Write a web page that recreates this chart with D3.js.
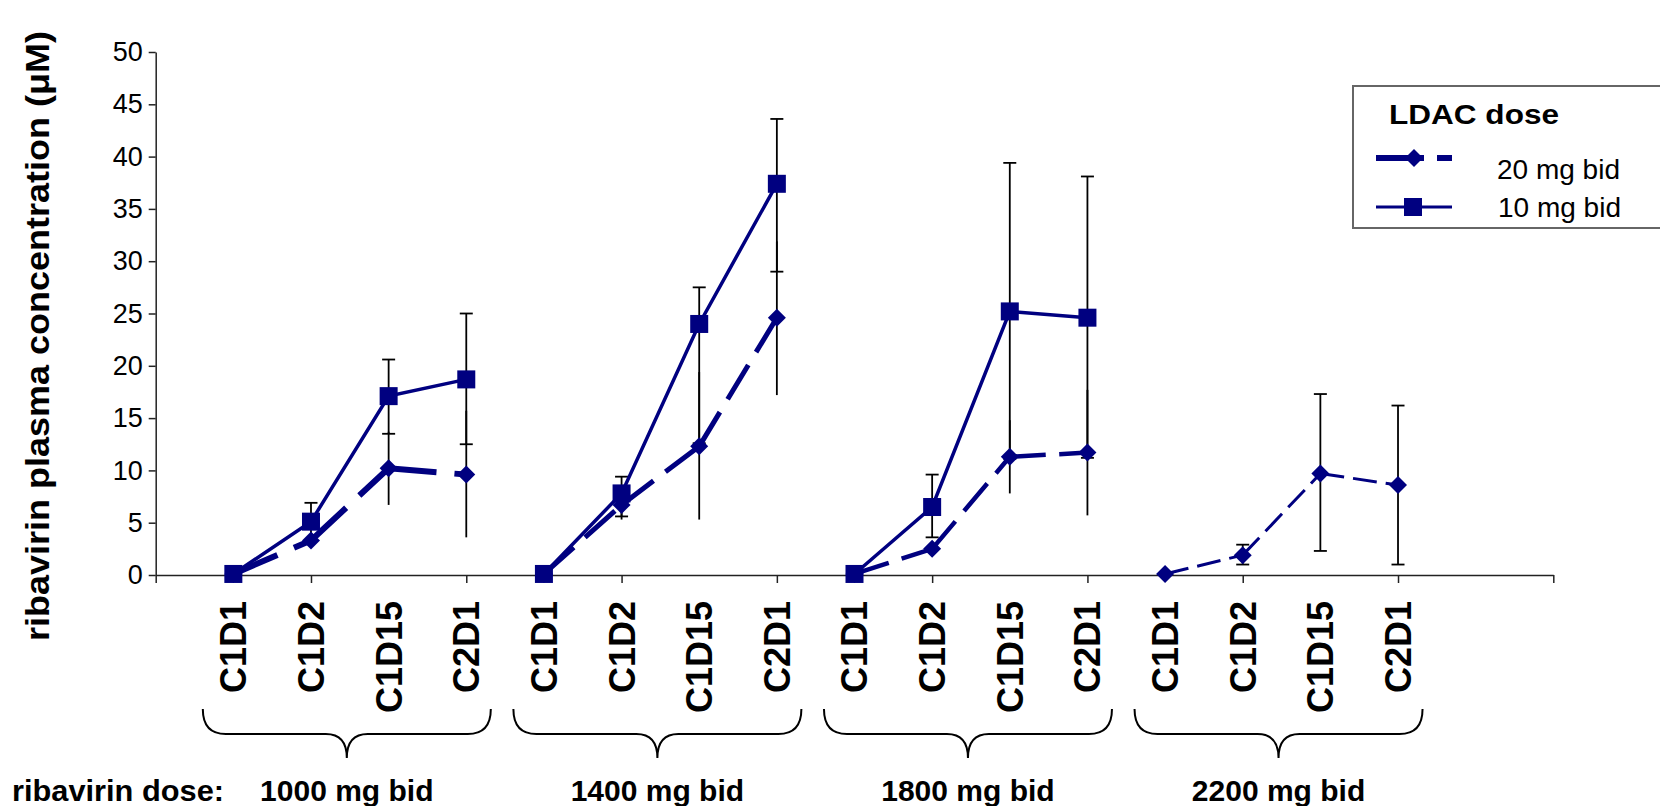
<!DOCTYPE html>
<html>
<head>
<meta charset="utf-8">
<script src="https://cdn.jsdelivr.net/npm/d3@7"></script>
<style>
  body { margin: 0; background: #fff; }
  text { font-family: "Liberation Sans", Arial, sans-serif; }
</style>
</head>
<body>
<script>
// ---- data ----
const visits = ['C1D1', 'C1D2', 'C1D15', 'C2D1'];
const ribavirinDoses = ['1000 mg bid', '1400 mg bid', '1800 mg bid', '2200 mg bid'];
// first category slot of each ribavirin group (slot 0, 17, 18 are empty)
const groupStart = [1, 5, 9, 13];
const yTicks = [0, 5, 10, 15, 20, 25, 30, 35, 40, 45, 50];

// LDAC 20 mg bid (diamonds, dashed)
const mean20 = [
  [0.1, 3.3, 10.2, 9.6],
  [0.1, 6.7, 12.3, 24.6],
  [0.1, 2.5, 11.3, 11.7],
  [0.1, 1.9, 9.7, 8.6]
];
const low20 = [
  [null, null, 6.7, 3.6],
  [null, 5.3, 5.3, 17.2],
  [null, null, 7.8, 5.7],
  [null, 1.0, 2.3, 1.0]
];
const high20 = [
  [null, null, 13.7, 15.7],
  [null, 8.0, 19.4, 31.9],
  [null, null, 14.8, 17.7],
  [null, 2.9, 17.3, 16.2]
];

// LDAC 10 mg bid (squares, solid) - no data for 2200 mg group
const mean10 = [
  [0.1, 5.1, 17.1, 18.7],
  [0.1, 7.8, 24.0, 37.4],
  [0.1, 6.5, 25.2, 24.6]
];
const low10 = [
  [null, 3.3, 13.5, 12.5],
  [null, 5.6, 12.6, 29.0],
  [null, 3.6, 11.1, 11.2]
];
const high10 = [
  [null, 6.9, 20.6, 25.0],
  [null, 9.4, 27.5, 43.6],
  [null, 9.6, 39.4, 38.1]
];

// ---- styles ----
const NAVY = '#000080';
const dashWidth20 = [6, 5, 4.5, 3];
const caps20 = [false, false, false, true];

const W = 1660, H = 806;
const svg = d3.select('body').append('svg')
  .attr('width', W)
  .attr('height', H);

const x = d3.scalePoint()
  .domain(d3.range(19))
  .range([155.7, 1553.3]);
const y = d3.scaleLinear()
  .domain([0, 50])
  .range([575, 52]);

// axes
const yAxis = svg.append('g')
  .attr('transform', 'translate(' + x(0) + ',0)')
  .call(d3.axisLeft(y).tickValues(yTicks).tickSize(7).tickPadding(6).tickSizeOuter(0));
yAxis.selectAll('text').attr('font-size', 27).attr('fill', '#000')
  .style('font-family', '"Liberation Sans", Arial, sans-serif');
yAxis.selectAll('line, path').attr('stroke', '#222').attr('stroke-width', 1.5);

const xAxis = svg.append('g')
  .attr('transform', 'translate(0,' + y(0) + ')')
  .call(d3.axisBottom(x).tickValues(d3.range(0, 19, 2)).tickSize(8).tickSizeOuter(0).tickFormat(''));
xAxis.selectAll('line, path').attr('stroke', '#222').attr('stroke-width', 1.5);

// y axis title
svg.append('text')
  .attr('transform', 'translate(49,336) rotate(-90)')
  .attr('text-anchor', 'middle')
  .attr('font-size', 34)
  .attr('font-weight', 'bold')
  .attr('textLength', 610)
  .attr('lengthAdjust', 'spacingAndGlyphs')
  .text('ribavirin plasma concentration (\u03bcM)');

// category labels
ribavirinDoses.forEach(function (dose, g) {
  visits.forEach(function (v, i) {
    svg.append('text')
      .attr('transform', 'translate(' + x(groupStart[g] + i) + ',601) rotate(-90)')
      .attr('text-anchor', 'end')
      .attr('dy', '0.36em')
      .attr('font-size', 36)
      .attr('font-weight', 'bold')
      .text(v);
  });
});

// braces + ribavirin dose labels
function bracePath(xc, hw) {
  const xl = xc - hw, xr = xc + hw;
  const y0 = 709, y1 = 734, y2 = 758, r = 23, r2 = 21;
  return 'M' + xl + ',' + y0 +
    ' Q' + xl + ',' + y1 + ' ' + (xl + r) + ',' + y1 +
    ' L' + (xc - r2) + ',' + y1 +
    ' Q' + xc + ',' + y1 + ' ' + xc + ',' + y2 +
    ' Q' + xc + ',' + y1 + ' ' + (xc + r2) + ',' + y1 +
    ' L' + (xr - r) + ',' + y1 +
    ' Q' + xr + ',' + y1 + ' ' + xr + ',' + y0;
}
ribavirinDoses.forEach(function (dose, g) {
  const xc = (x(groupStart[g]) + x(groupStart[g] + 3)) / 2 - 3;
  svg.append('path')
    .attr('d', bracePath(xc, 144))
    .attr('fill', 'none')
    .attr('stroke', '#000')
    .attr('stroke-width', 2);
  svg.append('text')
    .attr('x', xc)
    .attr('y', 801)
    .attr('text-anchor', 'middle')
    .attr('font-size', 30)
    .attr('font-weight', 'bold')
    .text(dose);
});
svg.append('text')
  .attr('x', 12)
  .attr('y', 801)
  .attr('font-size', 30)
  .attr('font-weight', 'bold')
  .attr('textLength', 212)
  .attr('lengthAdjust', 'spacingAndGlyphs')
  .text('ribavirin dose:');

// error bars (drawn under the markers)
const bars = svg.append('g').attr('stroke', '#000').attr('stroke-width', 1.8);
function drawBars(means, lows, highs, withCaps) {
  means.forEach(function (row, g) {
    row.forEach(function (m, i) {
      const hi = highs[g][i], lo = lows[g][i];
      if (hi == null && lo == null) return;
      const cx = x(groupStart[g] + i);
      const top = hi == null ? m : hi;
      const bot = lo == null ? m : lo;
      bars.append('line')
        .attr('x1', cx).attr('x2', cx)
        .attr('y1', y(top)).attr('y2', y(bot));
      if (withCaps(g)) {
        [hi, lo].forEach(function (v) {
          if (v == null) return;
          bars.append('line')
            .attr('x1', cx - 6.5).attr('x2', cx + 6.5)
            .attr('y1', y(v)).attr('y2', y(v));
        });
      }
    });
  });
}
drawBars(mean10, low10, high10, function () { return true; });
drawBars(mean20, low20, high20, function (g) { return caps20[g]; });

// lines
const line = d3.line()
  .x(function (d) { return x(d.i); })
  .y(function (d) { return y(d.v); });

mean20.forEach(function (row, g) {
  const w = dashWidth20[g];
  for (let i = 0; i < row.length - 1; i++) {
    svg.append('path')
      .attr('d', line([{ i: groupStart[g] + i, v: row[i] }, { i: groupStart[g] + i + 1, v: row[i + 1] }]))
      .attr('fill', 'none')
      .attr('stroke', NAVY)
      .attr('stroke-width', w)
      .attr('stroke-dasharray', (8 * w) + ',' + (3 * w));
  }
});
mean10.forEach(function (row, g) {
  svg.append('path')
    .attr('d', line(row.map(function (v, i) { return { i: groupStart[g] + i, v: v }; })))
    .attr('fill', 'none')
    .attr('stroke', NAVY)
    .attr('stroke-width', 3.5);
});

// markers
const diamond = 'M0,-9L9,0L0,9L-9,0Z';
mean20.forEach(function (row, g) {
  row.forEach(function (v, i) {
    svg.append('path')
      .attr('d', diamond)
      .attr('transform', 'translate(' + x(groupStart[g] + i) + ',' + y(v) + ')')
      .attr('fill', NAVY);
  });
});
mean10.forEach(function (row, g) {
  row.forEach(function (v, i) {
    svg.append('rect')
      .attr('x', x(groupStart[g] + i) - 9)
      .attr('y', y(v) - 9)
      .attr('width', 18)
      .attr('height', 18)
      .attr('fill', NAVY);
  });
});

// legend
const legend = svg.append('g');
legend.append('rect')
  .attr('x', 1353).attr('y', 86)
  .attr('width', 320).attr('height', 142)
  .attr('fill', '#fff')
  .attr('stroke', '#666')
  .attr('stroke-width', 2);
legend.append('text')
  .attr('x', 1389).attr('y', 124)
  .attr('font-size', 27)
  .attr('font-weight', 'bold')
  .attr('textLength', 170)
  .attr('lengthAdjust', 'spacingAndGlyphs')
  .text('LDAC dose');
legend.append('line')
  .attr('x1', 1376).attr('x2', 1452)
  .attr('y1', 158).attr('y2', 158)
  .attr('stroke', NAVY)
  .attr('stroke-width', 6)
  .attr('stroke-dasharray', '48,13');
legend.append('path')
  .attr('d', diamond)
  .attr('transform', 'translate(1414,158)')
  .attr('fill', NAVY);
legend.append('text')
  .attr('x', 1497).attr('y', 179)
  .attr('font-size', 28)
  .text('20 mg bid');
legend.append('line')
  .attr('x1', 1376).attr('x2', 1452)
  .attr('y1', 207).attr('y2', 207)
  .attr('stroke', NAVY)
  .attr('stroke-width', 3);
legend.append('rect')
  .attr('x', 1404).attr('y', 198)
  .attr('width', 18).attr('height', 18)
  .attr('fill', NAVY);
legend.append('text')
  .attr('x', 1498).attr('y', 217)
  .attr('font-size', 28)
  .text('10 mg bid');
</script>
</body>
</html>
